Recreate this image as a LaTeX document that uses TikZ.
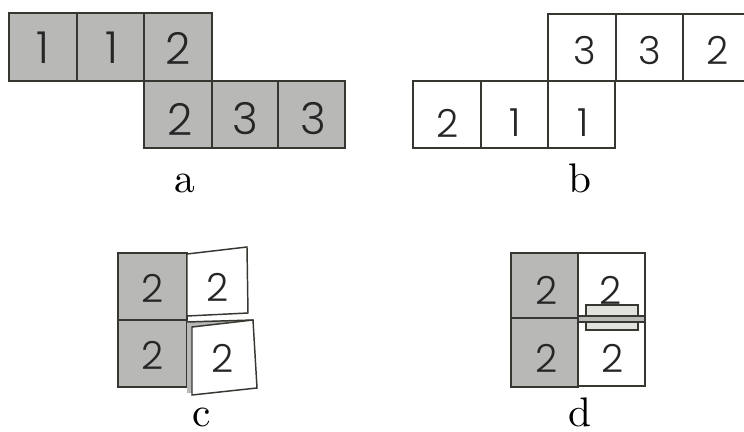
\documentclass[tikz,border=0pt]{standalone}
\usepackage{fontspec}
\newfontfamily\numfont{Poppins Light}
\newfontfamily\labfont{lmroman10-regular}[Extension=.otf]
\definecolor{halftone}{RGB}{184,184,182}
\definecolor{edge}{RGB}{55,55,50}
\definecolor{lightband}{RGB}{225,225,222}
\begin{document}
\begin{tikzpicture}[x=0.75pt,y=-0.75pt]
\useasboundingbox (0,0) rectangle (744,432);
\clip (0,0) rectangle (744,432);
\tikzset{
  shadedcell/.style={fill=halftone, draw=edge, line width=1.3pt},
  whitecell/.style={fill=white, draw=edge, line width=1.1pt},
  digitA/.style={font=\numfont\fontsize{33}{33}\selectfont, text=black!85, inner sep=0pt},
  digitB/.style={font=\numfont\fontsize{29}{29}\selectfont, text=black!85, inner sep=0pt},
  lab/.style={font=\labfont\fontsize{31}{31}\selectfont, anchor=base, inner sep=0pt}
}
% ---------- panel a ----------
\draw[shadedcell] (9,13) rectangle (77,81);
\draw[shadedcell] (77,13) rectangle (144,81);
\draw[shadedcell] (144,13) rectangle (212,81);
\draw[shadedcell] (144,81) rectangle (212,148);
\draw[shadedcell] (212,81) rectangle (278,148);
\draw[shadedcell] (278,81) rectangle (345,148);
\node[digitA] (a1) at (43,48) {1};
\node[digitA] (a2) at (112,48) {1};
\node[digitA] (a3) at (178,48) {2};
\node[digitA] (a4) at (180,119) {2};
\node[digitA] (a5) at (245,119) {3};
\node[digitA] (a6) at (313,119) {3};
\node[lab] (la) at (185,192) {a};
% ---------- panel b ----------
\draw[whitecell] (548,14) rectangle (616,81);
\draw[whitecell] (616,14) rectangle (683,81);
\draw[whitecell] (683,14) rectangle (752,81);
\draw[whitecell] (413,81) rectangle (481,148);
\draw[whitecell] (481,81) rectangle (548,148);
\draw[whitecell] (548,81) rectangle (615,148);
\node[digitB] (b1) at (585,50) {3};
\node[digitB] (b2) at (650,50) {3};
\node[digitB] (b3) at (718,50) {2};
\node[digitB] (b4) at (448,123) {2};
\node[digitB] (b5) at (515,123) {1};
\node[digitB] (b6) at (583,123) {1};
\node[lab] (lb) at (580,192) {b};
% ---------- panel c ----------
\draw[shadedcell] (118,253) rectangle (187,320);
\draw[shadedcell] (118,320) rectangle (187,387);
\fill[halftone] (187,321) -- (253,320) -- (253,326) -- (192,328) -- (192,393) -- (187,393) -- cycle;
\draw[whitecell] (187,254) -- (247,247) -- (248,313) -- (187,316) -- cycle;
\draw[whitecell] (192,327) -- (253,320) -- (257,388) -- (192,395) -- cycle;
\draw[draw=edge, line width=1.1pt] (187,322) -- (253,320);
\node[digitB] (c1) at (153,288) {2};
\node[digitB] (c2) at (218,287) {2};
\node[digitB] (c3) at (153,355) {2};
\node[digitB] (c4) at (223,358) {2};
\node[lab] (lc) at (202,426) {c};
% ---------- panel d ----------
\draw[shadedcell] (511,253) rectangle (578,318);
\draw[shadedcell] (511,318) rectangle (578,387);
\draw[whitecell] (578,253) rectangle (645,318);
\draw[whitecell] (578,318) rectangle (645,386);
\draw[draw=edge, fill=lightband, line width=1.1pt] (586,305) rectangle (638,330);
\draw[draw=edge, fill=halftone, line width=0.9pt] (578,316) rectangle (645,322);
\node[digitB] (d1) at (547,290) {2};
\node[digitB] (d2) at (611,290) {2};
\node[digitB] (d3) at (547,358) {2};
\node[digitB] (d4) at (613,358) {2};
\node[lab] (ld) at (580,426) {d};
\end{tikzpicture}
\end{document}
